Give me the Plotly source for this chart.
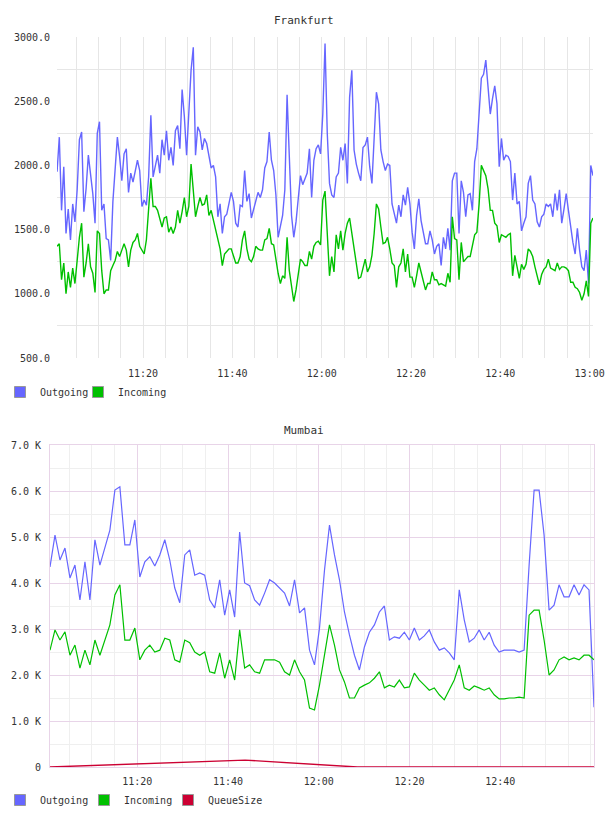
import pandas as pd
import plotly.graph_objects as go

# ---------------- data ----------------
DAY = "2013-05-14 "
START = DAY + "11:00:45"

FRA_OUT = [1950, 2220, 1650, 1990, 1470, 1660, 1420, 1700, 1560, 1810, 2200, 2260, 1640, 1820, 2080, 1910, 1780, 1550, 2250, 2340,
           1650, 1700, 1430, 1420, 1260, 1720, 1960, 2220, 2070, 1880, 2090, 2130, 1790, 1940, 1870, 1950, 2040, 1960, 1680, 1730,
           1690, 1910, 2390, 1910, 2010, 2080, 1940, 2200, 2080, 2270, 2040, 2140, 2000, 2270, 2310, 2130, 2590, 2380, 2080, 2390,
           2740,
           2920, 2080, 2300, 2260, 2120, 2210, 2170, 2070, 1980, 2000, 1910, 1600, 1700, 1470, 1600, 1620, 1700, 1790, 1720, 1550,
           1520, 1690, 1680, 1960, 1720, 1780, 1590, 1660, 1730, 1790, 1750, 1810, 1980, 2030, 2260, 2040, 1960, 1770, 1440, 1530,
           1610, 1810, 2550, 2070, 1610, 1440, 1560, 1740, 1920, 1850, 1900, 1940, 2130, 1750, 2040, 2130, 2160, 2090, 2400, 2950,
           2250, 1860, 1770, 1750, 1910, 1940, 2140, 2040, 2170, 1860, 2530, 2740, 2120, 2010, 1940, 1880, 2140, 2160, 2220, 1990,
           1860, 2260, 2570, 2480, 2120, 2030, 1960, 2010, 2000, 1700, 1610, 1550, 1690, 1600, 1770, 1690, 1830, 1700, 1480, 1350,
           1610, 1740, 1570, 1470, 1390, 1390, 1490, 1420, 1310, 1370, 1390, 1220, 1440, 1350, 1510, 1340, 1880, 1940, 1940, 1470,
           1880, 1790, 1600, 1770, 1780, 1650, 2030, 2130, 2430, 2680, 2710, 2820, 2610, 2400, 2520, 2620, 2480, 1990, 2210, 2040,
           2080, 2070, 2030, 1730, 1940, 1700, 1720, 1490, 1550, 1600, 1860, 1920, 1730, 1700, 1560, 1520, 1600, 1620, 1700, 1680,
           1700, 1600, 1780, 1650, 1810, 1550, 1660, 1780, 1650, 1510, 1400, 1310, 1510, 1340, 1210, 1180, 1340, 1080, 2000, 1920]

FRA_IN = [1370, 1390, 1110, 1240, 1000, 1170, 1050, 1200, 1080, 1270, 1440, 1550, 1130, 1240, 1390, 1210, 1160, 1010, 1490, 1470,
          1180, 1000, 1030, 1030, 1180, 1220, 1260, 1330, 1290, 1340, 1390, 1340, 1210, 1340, 1400, 1420, 1470, 1370, 1340, 1310,
          1420, 1700, 1900, 1680, 1680, 1650, 1590, 1520, 1590, 1600, 1480, 1520, 1470, 1520, 1650, 1550, 1640, 1750, 1600, 1680,
          2010,
          1770, 1600, 1680, 1750, 1690, 1700, 1770, 1610, 1650, 1570, 1490, 1430, 1350, 1220, 1310, 1330, 1350, 1350, 1300, 1240,
          1240, 1290, 1420, 1490, 1350, 1270, 1250, 1290, 1370, 1350, 1340, 1340, 1420, 1430, 1510, 1390, 1380, 1250, 1160, 1080,
          1140, 1120, 1440, 1180, 1040, 940, 1030, 1140, 1270, 1250, 1220, 1220, 1330, 1270, 1370, 1400, 1410, 1380, 1730, 1800,
          1430, 1140, 1290, 1170, 1460, 1350, 1490, 1340, 1470, 1550, 1590, 1470, 1330, 1210, 1120, 1130, 1210, 1270, 1170, 1210,
          1300, 1470, 1700, 1660, 1520, 1390, 1400, 1440, 1350, 1240, 1220, 1050, 1210, 1240, 1350, 1170, 1310, 1130, 1130, 1050,
          1140, 1240, 1170, 1100, 1030, 1080, 1080, 1170, 1110, 1110, 1070, 1080, 1070, 1060, 1160, 1090, 1600, 1430, 1420, 1110,
          1400, 1250, 1270, 1290, 1290, 1370, 1460, 1480, 1700, 2000, 1960, 1920, 1820, 1650, 1650, 1550, 1530, 1400, 1460, 1450,
          1440, 1460, 1470, 1140, 1300, 1210, 1120, 1230, 1190, 1230, 1350, 1330, 1290, 1210, 1150, 1070, 1150, 1190, 1210, 1270,
          1200, 1190, 1180, 1240, 1190, 1210, 1210, 1200, 1180, 1090, 1090, 1050, 1040, 1010, 950, 1000, 1100, 980, 1550, 1590]

MUM_OUT = [4350, 5040, 4500, 4760, 4110, 4390, 3630, 4460, 3630, 4940,
           4390, 4760, 5150, 6020, 6090, 4830, 4830, 5370, 4130, 4460,
           4570, 4370, 4610, 4940, 4500, 3890, 3570, 4610, 4720, 4170,
           4220, 4170, 3630, 3460, 4070, 3300, 3850, 3260, 5110, 4000,
           3940, 3630, 3520, 3780, 4070, 4000, 3890, 3780, 3500, 4070,
           3350, 3460, 2540, 2220, 3020, 4280, 5260, 4610, 4070, 3370,
           2870, 2430, 2110, 2610, 2930, 3090, 3370, 3500, 2760, 2830,
           2800, 2930, 2760, 3020, 2760, 2850, 2980, 2720, 2540, 2590,
           2480, 2330, 3850, 3200, 2720, 2800, 2980, 2760, 2930, 2650,
           2500, 2540, 2540, 2540, 2500, 2540, 4390, 6020, 6020, 5040,
           3410, 3520, 3960, 3700, 3700, 3960, 3740, 3960, 3850, 1300]

MUM_IN = [2540, 2980, 2760, 2940, 2430, 2650, 2150, 2540, 2220, 2760,
          2430, 2760, 3090, 3740, 3960, 2760, 2760, 3020, 2330, 2540,
          2650, 2500, 2540, 2800, 2760, 2330, 2280, 2760, 2700, 2500,
          2430, 2500, 2070, 2040, 2480, 1930, 2330, 1890, 2980, 2150,
          2220, 2070, 2040, 2330, 2330, 2330, 2280, 2070, 2000, 2330,
          2070, 1890, 1280, 1240, 1780, 2410, 3090, 2650, 2110, 1850,
          1500, 1500, 1720, 1780, 1830, 1930, 2070, 1720, 1780, 1740,
          1890, 1720, 1740, 2040, 1890, 1780, 1670, 1720, 1570, 1460,
          1670, 1890, 2220, 1720, 1670, 1760, 1720, 1670, 1720, 1570,
          1480, 1480, 1500, 1500, 1520, 1500, 3300, 3410, 3410, 2760,
          2000, 2110, 2330, 2390, 2330, 2370, 2330, 2430, 2430, 2330]

QUEUE_TIMES = ["11:00:45", "11:43:45", "12:08:30", "13:00:40"]
QUEUE_VALS = [0, 150, 0, 0]

FRA_Y_TICKS = [500, 1000, 1500, 2000, 2500, 3000]
MUM_Y_TICKS = [0, 1000, 2000, 3000, 4000, 5000, 6000, 7000]
MUM_Y_TEXT = ["0", "1.0 K", "2.0 K", "3.0 K", "4.0 K", "5.0 K", "6.0 K", "7.0 K"]
FRA_X_TICKS = ["11:20", "11:40", "12:00", "12:20", "12:40", "13:00"]
MUM_X_TICKS = ["11:20", "11:40", "12:00", "12:20", "12:40"]

# ---------------- styling ----------------
W, H = 608, 816
BLUE = "#6666ff"
GREEN = "#00c000"
RED = "#cc0033"
FONT = "DejaVu Sans Mono"
TXT = "#333333"
GRID = "#e6e6e6"
PINK = "#e8d4e8"
MINOR = "#efefef"

fra_t = pd.date_range(START, periods=len(FRA_OUT), freq="30s")
mum_t = pd.date_range(START, DAY + "13:00:40", periods=len(MUM_OUT))
q_t = pd.to_datetime([DAY + s for s in QUEUE_TIMES])

fig = go.Figure()
fig.add_trace(go.Scatter(x=fra_t, y=FRA_OUT, mode="lines", line=dict(color=BLUE, width=1.4),
                         xaxis="x", yaxis="y", showlegend=False))
fig.add_trace(go.Scatter(x=fra_t, y=FRA_IN, mode="lines", line=dict(color=GREEN, width=1.4),
                         xaxis="x", yaxis="y", showlegend=False))
fig.add_trace(go.Scatter(x=mum_t, y=MUM_OUT, mode="lines", line=dict(color=BLUE, width=1.2),
                         xaxis="x2", yaxis="y2", showlegend=False))
fig.add_trace(go.Scatter(x=mum_t, y=MUM_IN, mode="lines", line=dict(color=GREEN, width=1.2),
                         xaxis="x2", yaxis="y2", showlegend=False))
fig.add_trace(go.Scatter(x=q_t, y=QUEUE_VALS, mode="lines", line=dict(color=RED, width=1.4),
                         xaxis="x2", yaxis="y2", showlegend=False, cliponaxis=False))

# legend swatches (plus an invisible trailing entry so the last label is not clipped)
for name, col, lg in [("Outgoing", BLUE, "legend"), ("Incoming", GREEN, "legend"),
                      (" ", "rgba(0,0,0,0)", "legend"),
                      ("Outgoing", BLUE, "legend2"), ("Incoming", GREEN, "legend2"),
                      ("QueueSize", RED, "legend2"), (" ", "rgba(0,0,0,0)", "legend2")]:
    fig.add_trace(go.Scatter(x=[None], y=[None], mode="markers", name=name, legend=lg,
                             marker=dict(symbol="square", size=11, color=col,
                                         line=dict(color="#999999" if name.strip() else "rgba(0,0,0,0)",
                                                   width=1))))

t = lambda s: pd.Timestamp(DAY + s)

axis_font = dict(family=FONT, size=10, color=TXT)

fig.update_layout(
    width=W, height=H, margin=dict(l=0, r=0, t=0, b=0, autoexpand=False),
    paper_bgcolor="white", plot_bgcolor="white",
    font=dict(family=FONT, size=10, color=TXT),
    xaxis=dict(domain=[57 / W, 593 / W], anchor="y", type="date", automargin=False,
               range=[t("11:00:44"), t("13:00:45")],
               tickmode="array", tickvals=[t(s) for s in FRA_X_TICKS], ticktext=FRA_X_TICKS,
               showgrid=True, gridcolor=GRID, gridwidth=1, zeroline=False, showline=False,
               ticks="", tickfont=axis_font, ticklabelstandoff=8,
               minor=dict(tickmode="linear", tick0=t("11:00:00"), dtick=300000,
                          showgrid=True, gridcolor=GRID, gridwidth=1)),
    yaxis=dict(domain=[1 - 358 / H, 1 - 37 / H], anchor="x", range=[500, 3000], automargin=False,
               tickmode="array", tickvals=FRA_Y_TICKS, tickformat=".1f",
               showgrid=False, zeroline=False, showline=False, ticks="",
               tickfont=axis_font, ticklabelstandoff=6,
               minor=dict(tickmode="linear", tick0=750, dtick=500,
                          showgrid=True, gridcolor=GRID, gridwidth=1)),
    xaxis2=dict(domain=[50 / W, 594 / W], anchor="y2", type="date", automargin=False,
                range=[t("11:00:45"), t("13:00:40")],
                tickmode="array", tickvals=[t(s) for s in MUM_X_TICKS], ticktext=MUM_X_TICKS,
                showgrid=True, gridcolor=PINK, gridwidth=1, zeroline=False,
                showline=True, mirror=True, linecolor=PINK, linewidth=1,
                ticks="", tickfont=axis_font, ticklabelstandoff=5,
                minor=dict(tickmode="linear", tick0=t("11:00:00"), dtick=300000,
                           showgrid=True, gridcolor=MINOR, gridwidth=1)),
    yaxis2=dict(domain=[1 - 767 / H, 1 - 445 / H], anchor="x2", range=[0, 7000], automargin=False,
                tickmode="array", tickvals=MUM_Y_TICKS, ticktext=MUM_Y_TEXT,
                showgrid=True, gridcolor=PINK, gridwidth=1, zeroline=False,
                showline=True, mirror=True, linecolor=PINK, linewidth=1,
                ticks="", tickfont=axis_font, ticklabelstandoff=6,
                minor=dict(tickmode="linear", tick0=500, dtick=1000,
                           showgrid=True, gridcolor=MINOR, gridwidth=1)),
    legend=dict(orientation="h", x=0, y=1 - 392 / H, xanchor="left", yanchor="middle",
                font=dict(family=FONT, size=10, color=TXT), bgcolor="rgba(0,0,0,0)",
                itemwidth=30, entrywidth=33, entrywidthmode="pixels"),
    legend2=dict(orientation="h", x=0, y=1 - 800 / H, xanchor="left", yanchor="middle",
                 font=dict(family=FONT, size=10, color=TXT), bgcolor="rgba(0,0,0,0)",
                 itemwidth=30, entrywidth=39, entrywidthmode="pixels"),
    annotations=[
        dict(text="Frankfurt", x=0.5, y=1 - 20 / H, xref="paper", yref="paper", yanchor="middle",
             showarrow=False, font=dict(family=FONT, size=11, color=TXT)),
        dict(text="Mumbai", x=0.5, y=1 - 430 / H, xref="paper", yref="paper", yanchor="middle",
             showarrow=False, font=dict(family=FONT, size=11, color=TXT)),
    ],
)

fig.write_html("out.html")
